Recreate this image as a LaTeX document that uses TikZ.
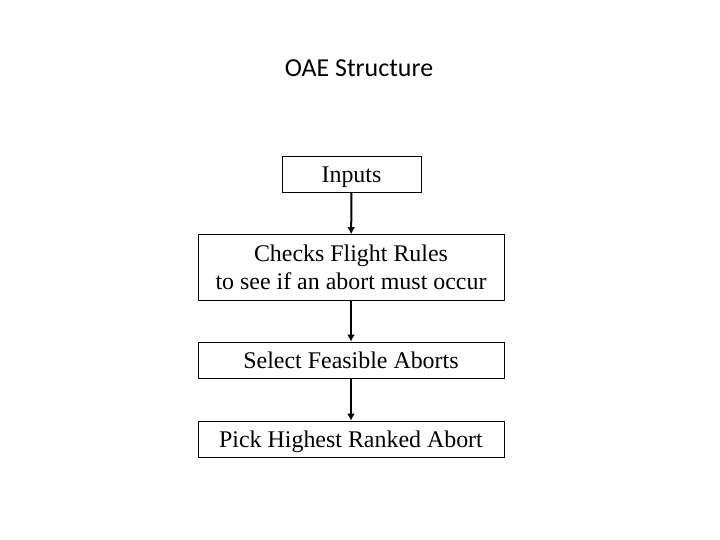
\documentclass[tikz,border=0pt]{standalone}
\usepackage{fontspec}
\setmainfont{Liberation Serif}
\newfontfamily\titlefont{Carlito}
\usetikzlibrary{arrows.meta}
\tikzset{
  oaebox/.style={draw=black, line width=0.8bp, inner sep=0pt, align=center,
    minimum height=36bp, font=\fontsize{24}{28}\selectfont},
  oaeline/.style={text height=16bp, text depth=0pt},
  oaearrow/.style={draw=black, line width=2bp, -{Latex[length=7bp,width=8bp]}}
}
\begin{document}
\begin{tikzpicture}[x=1bp,y=-1bp]
\useasboundingbox (0,0) rectangle (720,540);
\pgfmathsetmacro{\boxw}{306}
\node[font=\titlefont\fontsize{26}{30}\selectfont] (title) at (359,68) {OAE Structure};
\node[oaebox, oaeline, minimum width=139bp] (inputs) at (351.5,174.5) {Inputs};
\node[oaebox, minimum width=\boxw bp, minimum height=66bp] (checks) at (351,267.5) {Checks Flight Rules\\to see if an abort must occur};
\node[oaebox, oaeline, minimum width=\boxw bp] (select) at (351,360) {Select Feasible Aborts};
\node[oaebox, oaeline, minimum width=\boxw bp] (pick) at (351,439) {Pick Highest Ranked Abort};
\draw[oaearrow] (inputs) -- (checks);
\draw[oaearrow] (checks) -- (select);
\draw[oaearrow] (select) -- (pick);
\end{tikzpicture}
\end{document}
